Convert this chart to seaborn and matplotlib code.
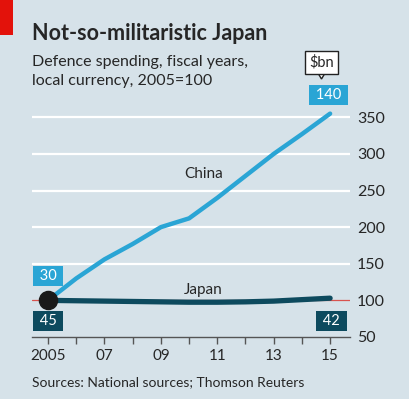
import matplotlib
matplotlib.use("Agg")
import matplotlib.pyplot as plt
import matplotlib.patches as mpatches
import pandas as pd
import seaborn as sns

# Data (2005=100)
years = [2005, 2006, 2007, 2008, 2009, 2010, 2011, 2012, 2013, 2014, 2015]
china = [100, 130, 156, 177, 200, 212, 240, 270, 300, 327, 355]
japan = [100, 99.5, 99, 98.5, 98, 97.5, 97.5, 98, 99, 101, 103]
y_ticks = [50, 100, 150, 200, 250, 300, 350]
x_tick_labels = ["2005", "07", "09", "11", "13", "15"]
usd_china = ["30", "140"]
usd_japan = ["45", "42"]

BG = "#d6e2e9"
CHINA_C = "#2aa5d5"
JAPAN_C = "#0d4a5e"


def main():
    sns.set_theme(style="white")
    plt.rcParams["font.family"] = ["Lato", "DejaVu Sans"]

    df = pd.DataFrame({"year": years, "China": china, "Japan": japan})

    fig = plt.figure(figsize=(4.10, 3.99), dpi=100, facecolor=BG)
    ax = fig.add_axes([0.078, 0.1554, 0.776, 0.569])
    ax.set_facecolor(BG)

    # gridlines
    for v in y_ticks[1:]:
        col = "#d9534f" if v == 100 else "white"
        lw = 0.9 if v == 100 else 1.6
        ax.axhline(v, color=col, lw=lw, zorder=1)

    sns.lineplot(data=df, x="year", y="China", ax=ax, color=CHINA_C,
                 lw=3.2, zorder=3)
    sns.lineplot(data=df, x="year", y="Japan", ax=ax, color=JAPAN_C,
                 lw=3.8, zorder=4)
    ax.scatter([years[0]], [japan[0]], s=170, color="#1a1a1a", zorder=5)

    ax.set_xlim(2004.43, 2015.71)
    ax.set_ylim(50, 360)
    ax.set_xlabel("")
    ax.set_ylabel("")

    for s in ["top", "right", "left"]:
        ax.spines[s].set_visible(False)
    ax.spines["bottom"].set_color("#555555")
    ax.spines["bottom"].set_linewidth(1.0)

    ax.set_xticks(years, minor=False)
    ax.set_xticklabels([x_tick_labels[i // 2] if i % 2 == 0 else ""
                        for i in range(len(years))])
    ax.tick_params(axis="x", length=5, width=1, color="#555555",
                   direction="out", pad=4, labelsize=11, bottom=True)
    ax.yaxis.tick_right()
    ax.set_yticks(y_ticks)
    ax.tick_params(axis="y", length=0, pad=5, labelsize=11.5)

    # series labels
    ax.text(2010.5, 272, "China", fontsize=11, ha="center", va="center")
    ax.text(2010.5, 114, "Japan", fontsize=11, ha="center", va="center")

    # dollar value boxes
    def box(x, y, txt, col):
        ax.text(x, y, " " + txt + " ", fontsize=10.5, color="white",
                ha="center", va="center", zorder=6, clip_on=False,
                bbox=dict(boxstyle="square,pad=0.2", fc=col, ec="none"))

    box(years[0], 133, usd_china[0], CHINA_C)
    box(years[0], 72, usd_japan[0], JAPAN_C)
    box(years[-1] + 0.05, 72, usd_japan[1], JAPAN_C)
    box(2014.93, 380, usd_china[1], CHINA_C)

    # $bn callout
    fig.text(321.5 / 410, 1 - 62.5 / 399, "$bn", fontsize=10.5,
             ha="center", va="center",
             bbox=dict(boxstyle="square,pad=0.3", fc="white", ec="#222222",
                       lw=1.0))
    tri = mpatches.Polygon([[317 / 410, 1 - 71.5 / 399],
                            [326 / 410, 1 - 71.5 / 399],
                            [321.5 / 410, 1 - 79 / 399]],
                           closed=True, transform=fig.transFigure,
                           fc="white", ec="#222222", lw=1.0)
    fig.patches.append(tri)
    fig.patches.append(mpatches.Rectangle((317.5 / 410, 1 - 72.2 / 399),
                                          8 / 410, 1.5 / 399,
                                          transform=fig.transFigure,
                                          fc="white", ec="none"))

    # header
    fig.patches.append(mpatches.Rectangle((0, 1 - 35 / 399), 13 / 410,
                                          35 / 399, transform=fig.transFigure,
                                          fc="#e3120b", ec="none"))
    fig.text(32 / 410, 1 - 33 / 399, "Not-so-militaristic Japan",
             fontsize=15.5, fontweight="bold", va="center", ha="left")
    fig.text(32 / 410, 1 - 62 / 399, "Defence spending, fiscal years,",
             fontsize=11.5, va="center", ha="left")
    fig.text(32 / 410, 1 - 81 / 399, "local currency, 2005=100",
             fontsize=11.5, va="center", ha="left")
    fig.text(32 / 410, 1 - 382 / 399,
             "Sources: National sources; Thomson Reuters",
             fontsize=10, va="center", ha="left")

    fig.savefig("out.png", dpi=100, facecolor=BG)


if __name__ == "__main__":
    main()
